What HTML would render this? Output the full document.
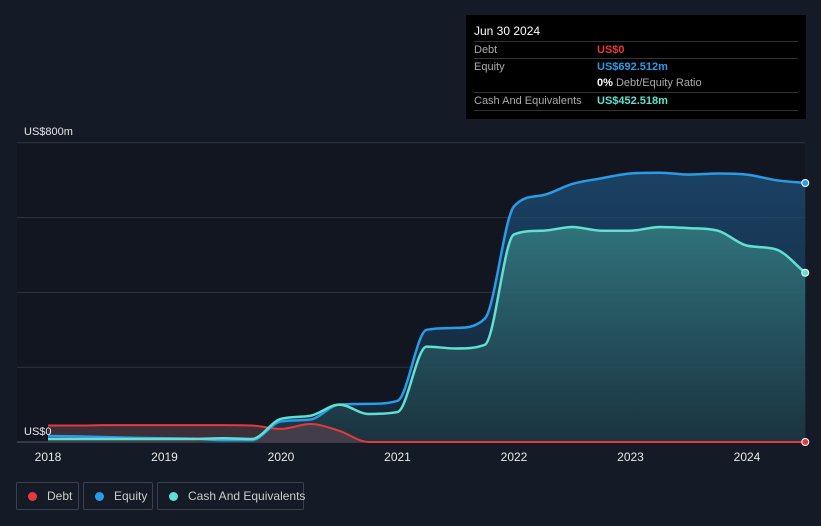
<!DOCTYPE html>
<html><head><meta charset="utf-8"><style>
body{margin:0;background:#151b26;font-family:"Liberation Sans",sans-serif;}
#wrap{position:relative;width:821px;height:526px;overflow:hidden;background:#151b26;}
.tip{position:absolute;left:466px;top:15px;width:340px;height:104px;background:#000;color:#fff;font-size:11px;}
.tip .row{position:absolute;left:8px;right:8px;border-top:1px solid #333;height:17px;line-height:17px;color:#aaa;}
.tip .v{position:absolute;left:123px;font-weight:bold;}
.leg{position:absolute;top:482px;height:28px;border:1px solid #3a4150;border-radius:2px;color:#ccc;font-size:12px;line-height:26px;box-sizing:border-box;white-space:nowrap;}
.dot{display:inline-block;width:9px;height:9px;border-radius:50%;margin:0 10px 0 11px;vertical-align:-1px;}
</style></head><body>
<div id="wrap">
<svg id="svg" width="821" height="526" style="position:absolute;left:0;top:0"></svg>
<div class="tip">
 <div style="position:absolute;left:8px;top:9px;font-size:12px">Jun 30 2024</div>
 <div class="row" style="top:26px">Debt<span class="v" style="color:#e5393e">US$0</span></div>
 <div class="row" style="top:43px">Equity<span class="v" style="color:#2a9be8">US$692.512m</span></div>
 <div class="row" style="top:60px;border-top:none"><span class="v" style="color:#fff">0% <span style="font-weight:normal;color:#aaa">Debt/Equity Ratio</span></span></div>
 <div class="row" style="top:77px;border-bottom:1px solid #333">Cash And Equivalents<span class="v" style="color:#5fe0d0">US$452.518m</span></div>
</div>
<div class="leg" style="left:16px;width:63px"><span class="dot" style="background:#e5393e"></span>Debt</div>
<div class="leg" style="left:83px;width:70px"><span class="dot" style="background:#2a9be8"></span>Equity</div>
<div class="leg" style="left:157px;width:147px"><span class="dot" style="background:#5fe0d0"></span>Cash And Equivalents</div>
</div>
<script>
const times=[2018,2018.25,2018.5,2018.75,2019,2019.25,2019.5,2019.75,2020,2020.25,2020.5,2020.75,2021,2021.25,2021.5,2021.75,2022,2022.25,2022.5,2022.75,2023,2023.25,2023.5,2023.75,2024,2024.25,2024.5];
const equity=[16,15,13,11,10,9,5,5,55,60,100,102,110,300,305,330,630,660,690,705,718,720,715,718,715,700,692.5];
const cash=[8,8,8,8,8,8,10,8,62,70,100,75,80,255,250,260,555,565,575,565,565,575,572,565,525,515,452.5];
const debt=[44,44,45,45,45,45,45,44,35,48,30,0,0,0,0,0,0,0,0,0,0,0,0,0,0,0,0];
const yTicks=[0,200,400,600,800];
const xTicks=[2018,2019,2020,2021,2022,2023,2024];
const X=t=>48+(t-2018)*116.5, Y=v=>442-v*0.374;
const svg=document.getElementById('svg'),NS='http://www.w3.org/2000/svg';
function mk(tag,a,name){const e=document.createElementNS(NS,tag);for(const k in a)e.setAttribute(k,a[k]);


svg.appendChild(e);return e;}
svg.innerHTML='<defs><linearGradient id="ge" x1="0" y1="0" x2="0" y2="1"><stop offset="0" stop-color="#1d4f7a" stop-opacity="0.75"/><stop offset="1" stop-color="#173048" stop-opacity="0.6"/></linearGradient><linearGradient id="gc" x1="0" y1="0" x2="0" y2="1"><stop offset="0" stop-color="#3a8a8a" stop-opacity="0.7"/><stop offset="1" stop-color="#1e3d45" stop-opacity="0.6"/></linearGradient></defs>';
mk('rect',{x:17,y:143,width:788,height:299,fill:'#111620'},'plot-bg');
yTicks.forEach(v=>mk('line',{x1:17,x2:805,y1:Y(v),y2:Y(v),stroke:v==0?'#555c68':'#2e3440','stroke-width':1},'gridline'));
function path(vals){const xs=times.map(X),ys=vals.map(Y),n=xs.length;const m=[];const d=[];
for(let i=0;i<n-1;i++)d.push((ys[i+1]-ys[i])/(xs[i+1]-xs[i]));
for(let i=0;i<n;i++){if(i==0)m.push(d[0]);else if(i==n-1)m.push(d[n-2]);else m.push(d[i-1]*d[i]<=0?0:(d[i-1]+d[i])/2);}
for(let i=0;i<n-1;i++){if(d[i]==0){m[i]=0;m[i+1]=0;continue;}const a=m[i]/d[i],b=m[i+1]/d[i],s=a*a+b*b;if(s>9){const t=3/Math.sqrt(s);m[i]=t*a*d[i];m[i+1]=t*b*d[i];}}
let p='M'+xs[0]+','+ys[0];
for(let i=0;i<n-1;i++){const h=(xs[i+1]-xs[i])/3;p+=' C'+(xs[i]+h)+','+(ys[i]+m[i]*h)+' '+(xs[i+1]-h)+','+(ys[i+1]-m[i+1]*h)+' '+xs[i+1]+','+ys[i+1];}
return p;}
const base=' L'+X(times[times.length-1])+','+Y(0)+' L'+X(times[0])+','+Y(0)+' Z';
mk('path',{d:path(equity)+base,fill:'url(#ge)'},'equity-area');
mk('path',{d:path(cash)+base,fill:'url(#gc)'},'cash-area');
mk('path',{d:path(debt)+base,fill:'#6a4550','fill-opacity':0.5},'debt-area');
mk('path',{d:path(debt),fill:'none',stroke:'#e5393e','stroke-width':2},'debt-line');
mk('path',{d:path(equity),fill:'none',stroke:'#2a9be8','stroke-width':2.5},'equity-line');
mk('path',{d:path(cash),fill:'none',stroke:'#5fe0d0','stroke-width':2.5},'cash-line');
const L=times.length-1;
[[debt,'#e5393e','debt-end-dot'],[equity,'#2a9be8','equity-end-dot'],[cash,'#5fe0d0','cash-end-dot']].forEach(([s,c,n])=>mk('circle',{cx:X(times[L]),cy:Y(s[L]),r:3.5,fill:c,stroke:'#fff','stroke-width':1},n));
xTicks.forEach(t=>{const e=mk('text',{x:X(t),y:461,fill:'#e8e8e8','font-size':12,'text-anchor':'middle','font-family':'Liberation Sans'},'x-tick-label');e.textContent=t;});
let e=mk('text',{x:24,y:135,fill:'#e8e8e8','font-size':11,'font-family':'Liberation Sans'},'y-label-top');e.textContent='US$800m';
e=mk('text',{x:24,y:435,fill:'#e8e8e8','font-size':11,'font-family':'Liberation Sans'},'y-label-zero');e.textContent='US$0';
</script>
</body></html>
